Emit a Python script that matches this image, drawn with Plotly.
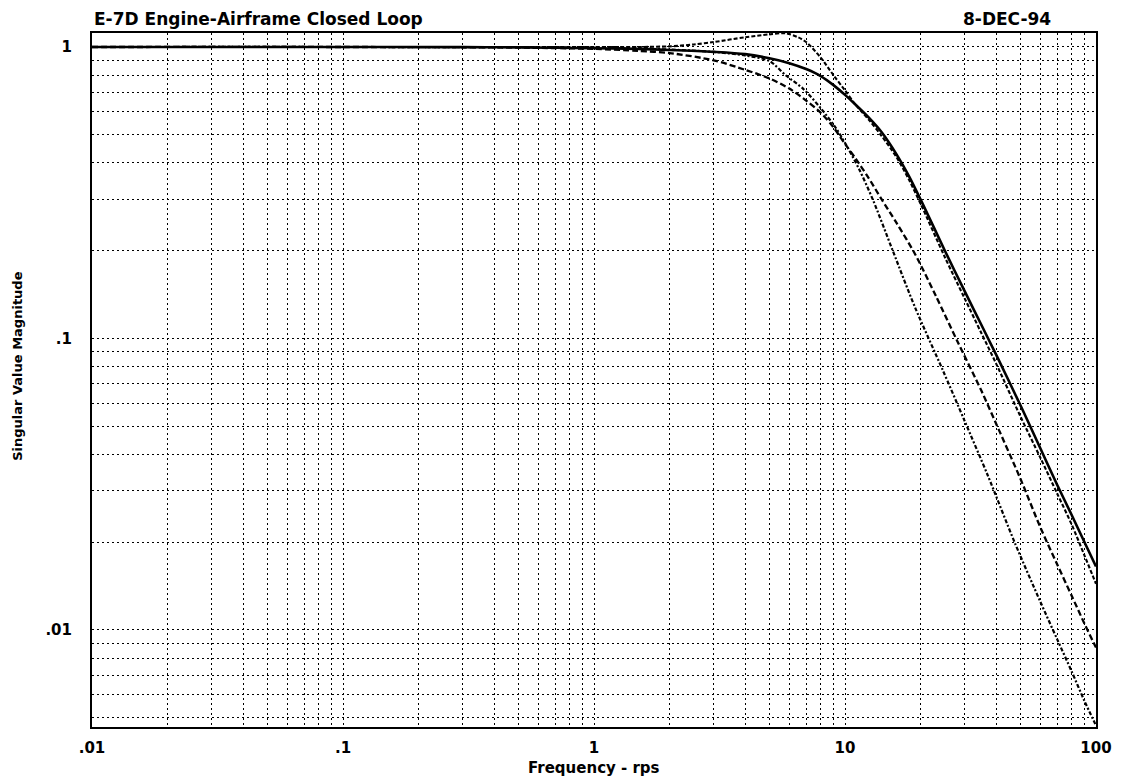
import plotly.graph_objects as go

# ---- data ----
freq_solid = [0.01, 0.1, 0.3, 0.5, 1, 1.5, 2, 3, 4, 5, 6, 7, 8, 9, 10, 11, 12.5, 14, 16, 18, 20, 25, 30, 35, 40, 50, 60, 70, 80, 90, 100]
mag_solid = [1.0, 1.0, 0.999, 0.997, 0.99, 0.985, 0.977, 0.962, 0.945, 0.915, 0.88, 0.84, 0.795, 0.74, 0.685, 0.635, 0.57, 0.51, 0.43, 0.36, 0.30, 0.20, 0.145, 0.111, 0.088, 0.059, 0.042, 0.0315, 0.0248, 0.0200, 0.0165]

freq_res = [0.01, 0.1, 0.5, 1, 1.5, 2, 2.5, 3, 4, 5, 5.8, 6.5, 7, 8, 9, 10, 11, 12.5, 14, 16, 18, 20, 25, 30, 35, 40, 50, 60, 70, 80, 90, 100]
mag_res = [1.0, 1.0, 1.0, 1.0, 1.0, 1.005, 1.02, 1.04, 1.08, 1.105, 1.115, 1.08, 1.04, 0.92, 0.80, 0.71, 0.635, 0.56, 0.495, 0.42, 0.35, 0.29, 0.19, 0.137, 0.104, 0.082, 0.054, 0.039, 0.0294, 0.0230, 0.0180, 0.0144]

freq_dash = [0.01, 0.1, 0.3, 0.5, 1, 1.5, 2, 3, 4, 5, 6, 7, 8, 9, 10, 11, 12.3, 14, 16, 19, 23, 28, 35, 40, 50, 60, 70, 80, 90, 100]
mag_dash = [1.0, 1.0, 0.998, 0.995, 0.985, 0.97, 0.953, 0.90, 0.835, 0.78, 0.72, 0.655, 0.595, 0.53, 0.465, 0.415, 0.36, 0.30, 0.25, 0.195, 0.14, 0.098, 0.066, 0.051, 0.033, 0.0225, 0.0168, 0.0131, 0.0105, 0.0087]

freq_dd = [0.01, 0.1, 0.5, 1, 2, 3, 4, 5, 5.8, 6.8, 8, 9.2, 10.2, 11.4, 12.9, 15.5, 19, 24.5, 30, 37, 47.6, 60, 70, 80, 90, 100]
mag_dd = [1.0, 1.0, 0.998, 0.995, 0.98, 0.962, 0.935, 0.895, 0.80, 0.72, 0.617, 0.527, 0.455, 0.38, 0.30, 0.20, 0.128, 0.078, 0.052, 0.034, 0.0198, 0.0125, 0.0093, 0.0072, 0.0057, 0.0047]

x_ticks = [0.01, 0.1, 1, 10, 100]
x_ticktext = [".01", ".1", "1", "10", "100"]
y_ticks = [0.01, 0.1, 1]
y_ticktext = [".01", ".1", "1"]

title_left = "E-7D Engine-Airframe Closed Loop"
title_right = "8-DEC-94"
x_title = "Frequency - rps"
y_title = "Singular Value Magnitude"

# grid positions: 1..9 times each decade
def grid_vals(lo, hi):
    vals = []
    for e in range(lo, hi + 1):
        for m in range(1, 10):
            vals.append(m * 10.0 ** e)
    return vals

xg = [v for v in grid_vals(-2, 2) if v <= 100.0001]
yg = [v for v in grid_vals(-3, 0) if 0.0046 <= v <= 1.12]

def label_for(v, ticks, texts):
    for t, s in zip(ticks, texts):
        if abs(v - t) / t < 1e-6:
            return "<b>%s</b>" % s
    return ""

FONT = "DejaVu Sans, Liberation Sans, Arial, sans-serif"

fig = go.Figure()
fig.add_trace(go.Scatter(x=freq_dd, y=mag_dd, mode="lines",
                         line=dict(color="black", width=2.2, dash="4px,2px,2px,2px", shape="spline", smoothing=0.8)))
fig.add_trace(go.Scatter(x=freq_dash, y=mag_dash, mode="lines",
                         line=dict(color="black", width=2.3, dash="6px,3px", shape="spline", smoothing=0.8)))
fig.add_trace(go.Scatter(x=freq_res, y=mag_res, mode="lines",
                         line=dict(color="black", width=2.1, dash="4px,2px", shape="spline", smoothing=0.8)))
fig.add_trace(go.Scatter(x=freq_solid, y=mag_solid, mode="lines",
                         line=dict(color="black", width=2.6, shape="spline", smoothing=0.8)))

fig.update_layout(
    width=1124, height=781,
    margin=dict(l=92, r=23, t=33, b=54),
    paper_bgcolor="white", plot_bgcolor="white",
    showlegend=False,
    font=dict(family=FONT, color="black", size=13),
    annotations=[
        dict(text="<b>%s</b>" % title_left, x=0, y=1, xref="paper", yref="paper",
             xanchor="left", yanchor="bottom", yshift=2, showarrow=False,
             font=dict(size=17, family=FONT)),
        dict(text="<b>%s</b>" % title_right, x=0.957, y=1, xref="paper", yref="paper",
             xanchor="right", yanchor="bottom", yshift=2, showarrow=False,
             font=dict(size=17, family=FONT)),
        dict(text="<b>%s</b>" % x_title, x=0.5, y=0, xref="paper", yref="paper",
             xanchor="center", yanchor="middle", yshift=-41, showarrow=False,
             font=dict(size=15, family=FONT)),
        dict(text="<b>%s</b>" % y_title, x=0, y=0.519, xref="paper", yref="paper",
             xanchor="center", yanchor="middle", xshift=-74, textangle=-90, showarrow=False,
             font=dict(size=13, family=FONT)),
    ],
)
fig.update_xaxes(
    type="log", range=[-2, 2],
    tickmode="array", tickvals=xg,
    ticktext=[label_for(v, x_ticks, x_ticktext) for v in xg],
    tickfont=dict(size=15, family=FONT),
    showgrid=True, gridcolor="black", gridwidth=1, griddash="2px,3px",
    showline=True, linecolor="black", linewidth=2, mirror=True,
    ticks="", zeroline=False, ticklabelstandoff=6,
)
fig.update_yaxes(
    type="log", range=[-2.333, 0.048],
    tickmode="array", tickvals=yg,
    ticktext=[label_for(v, y_ticks, y_ticktext) for v in yg],
    tickfont=dict(size=15, family=FONT),
    showgrid=True, gridcolor="black", gridwidth=1, griddash="2px,3px",
    showline=True, linecolor="black", linewidth=2, mirror=True,
    ticks="", zeroline=False, ticklabelstandoff=15,
)

fig.write_html("out.html")
